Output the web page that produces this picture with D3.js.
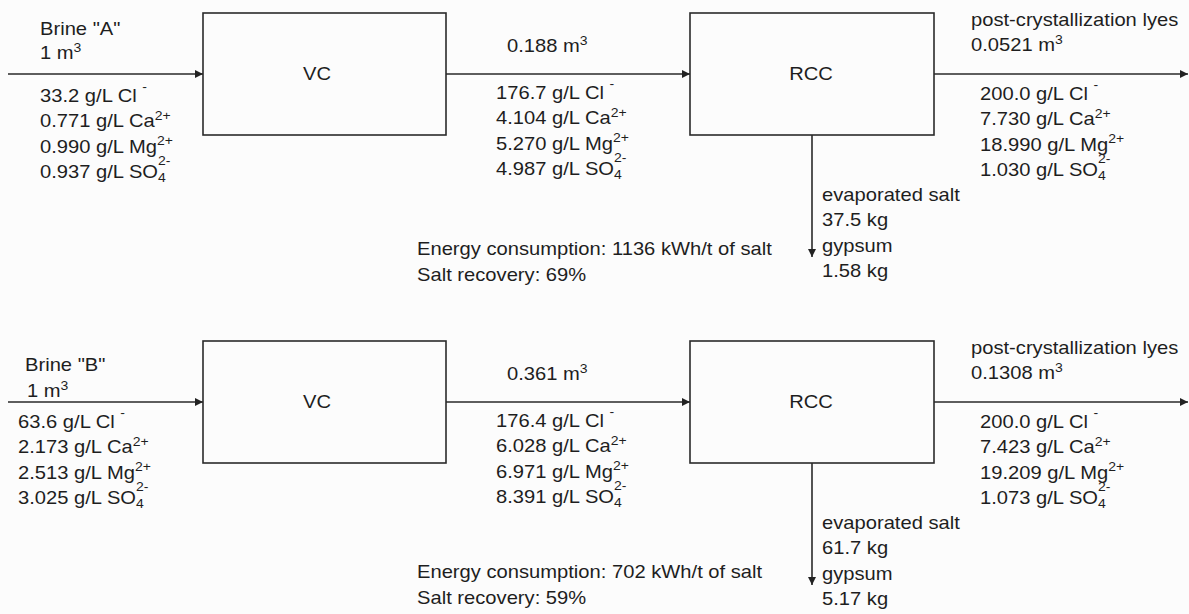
<!DOCTYPE html>
<html>
<head>
  <meta charset="utf-8">
  <title>VC + RCC mass balance</title>
  <script src="https://cdn.jsdelivr.net/npm/d3@7/dist/d3.min.js"></script>
  <style>
    html, body { margin: 0; padding: 0; background: #fcfcfc; }
    svg text { font-family: "Liberation Sans", Arial, sans-serif; fill: #1e1e1e; }
  </style>
</head>
<body>
<svg id="chart" width="1189" height="614"></svg>
<script>
// --- data ---
var brines = ['Brine "A"', 'Brine "B"'];
var feedVolume = ["1", "1"];
var feedConc = [[33.2, 0.771, 0.990, 0.937], [63.6, 2.173, 2.513, 3.025]];
var concVolume = ["0.188", "0.361"];
var concConc = [[176.7, 4.104, 5.270, 4.987], [176.4, 6.028, 6.971, 8.391]];
var lyeVolume = ["0.0521", "0.1308"];
var lyeConc = [[200.0, 7.730, 18.990, 1.030], [200.0, 7.423, 19.209, 1.073]];
var saltKg = ["37.5", "61.7"];
var gypsumKg = ["1.58", "5.17"];
var energy = [1136, 702];
var recovery = [69, 59];
var ions = [
  {sym: "Cl", charge: "-"},
  {sym: "Ca", charge: "2+"},
  {sym: "Mg", charge: "2+"},
  {sym: "SO", sub: "4", charge: "2-"}
];
var units = ["VC", "RCC"];

// --- layout ---
var svg = d3.select("#chart");
var panelY = d3.scalePoint().domain([0, 1]).range([74, 402]);
var x = d3.scaleLinear().domain([0, 1189]).range([0, 1189]);
var boxes = [[203, 446], [690, 934]];
var boxHalf = 61, lineH = 25.3, sx = 1.12;
var lay = [
  {brineX: 40, brineY: -39, volX: 40, volY: -15, feedX: 40, feedY: 28, enY: 181},
  {brineX: 25, brineY: -31, volX: 27, volY: -5, feedX: 18, feedY: 26, enY: 176}
];

svg.append("rect").attr("width", 1189).attr("height", 614).attr("fill", "#fcfcfc");

var defs = svg.append("defs");
defs.append("marker").attr("id", "arr")
  .attr("viewBox", "0 0 10 10").attr("refX", 10).attr("refY", 5)
  .attr("markerWidth", 9).attr("markerHeight", 8).attr("markerUnits", "userSpaceOnUse")
  .attr("orient", "auto")
  .append("path").attr("d", "M0,0L10,5L0,10Z").attr("fill", "#222");

function label(g, px, py, build) {
  var t = g.append("text").attr("transform", "translate(" + px + "," + py + ") scale(" + sx + ",1)")
    .style("font-size", "18px");
  build(t);
  return t;
}
function sup(t, s, dy, dx) {
  t.append("tspan").attr("dy", dy).attr("dx", dx || 0).style("font-size", "12.5px").text(s);
}
function volText(t, v) {
  t.append("tspan").text(v + " m");
  sup(t, "3", -7.5);
}
function fmt(v, i) { return i === 0 ? v.toFixed(1) : v.toFixed(3); }
function concLine(t, v, i) {
  var ion = ions[i];
  t.append("tspan").text(fmt(v, i) + " g/L " + ion.sym);
  if (ion.sub) {
    t.append("tspan").attr("dy", 4.5).style("font-size", "12.5px").text(ion.sub);
    sup(t, ion.charge, -17, -7);
  } else if (ion.charge === "-") {
    sup(t, ion.charge, -11.5, 5);
  } else {
    sup(t, ion.charge, -7.5);
  }
}
function concBlock(g, px, py, vals) {
  vals.forEach(function(v, i) {
    label(g, px, py + i * lineH, function(t) { concLine(t, v, i); });
  });
}

brines.forEach(function(name, p) {
  var y0 = panelY(p), L = lay[p];
  var g = svg.append("g");
  var line = function(x1, y1, x2, y2, arrow) {
    var l = g.append("line").attr("x1", x(x1)).attr("y1", y1).attr("x2", x(x2)).attr("y2", y2)
      .attr("stroke", "#2a2a2a").attr("stroke-width", 1.6);
    if (arrow) l.attr("marker-end", "url(#arr)");
  };

  // streams
  line(8, y0, boxes[0][0], y0, true);
  line(boxes[0][1], y0, boxes[1][0], y0, true);
  line(boxes[1][1], y0, 1188, y0, true);
  var cx = (boxes[1][0] + boxes[1][1]) / 2;
  line(cx, y0 + boxHalf, cx, y0 + 183, true);

  // units
  boxes.forEach(function(b, k) {
    g.append("rect").attr("x", x(b[0])).attr("y", y0 - boxHalf)
      .attr("width", x(b[1]) - x(b[0])).attr("height", boxHalf * 2)
      .attr("fill", "none").attr("stroke", "#2a2a2a").attr("stroke-width", 1.6);
    var lx = k === 0 ? 317 : 811;
    label(g, lx, y0 + 6, function(t) { t.attr("text-anchor", "middle").text(units[k]); });
  });

  // feed
  label(g, L.brineX, y0 + L.brineY, function(t) { t.text(name); });
  label(g, L.volX, y0 + L.volY, function(t) { volText(t, feedVolume[p]); });
  concBlock(g, L.feedX, y0 + L.feedY, feedConc[p]);

  // concentrate
  label(g, 507, y0 - 22, function(t) { volText(t, concVolume[p]); });
  concBlock(g, 496, y0 + 25, concConc[p]);

  // lyes
  label(g, 971, y0 - 48, function(t) { t.text("post-crystallization lyes"); });
  label(g, 971, y0 - 23, function(t) { volText(t, lyeVolume[p]); });
  concBlock(g, 980, y0 + 26, lyeConc[p]);

  // solids
  ["evaporated salt", saltKg[p] + " kg", "gypsum", gypsumKg[p] + " kg"].forEach(function(s, i) {
    label(g, 822, y0 + 127 + i * lineH, function(t) { t.text(s); });
  });

  // summary
  label(g, 417, y0 + L.enY, function(t) { t.text("Energy consumption: " + energy[p] + " kWh/t of salt"); });
  label(g, 417, y0 + L.enY + 26, function(t) { t.text("Salt recovery: " + recovery[p] + "%"); });
});
</script>
</body>
</html>
